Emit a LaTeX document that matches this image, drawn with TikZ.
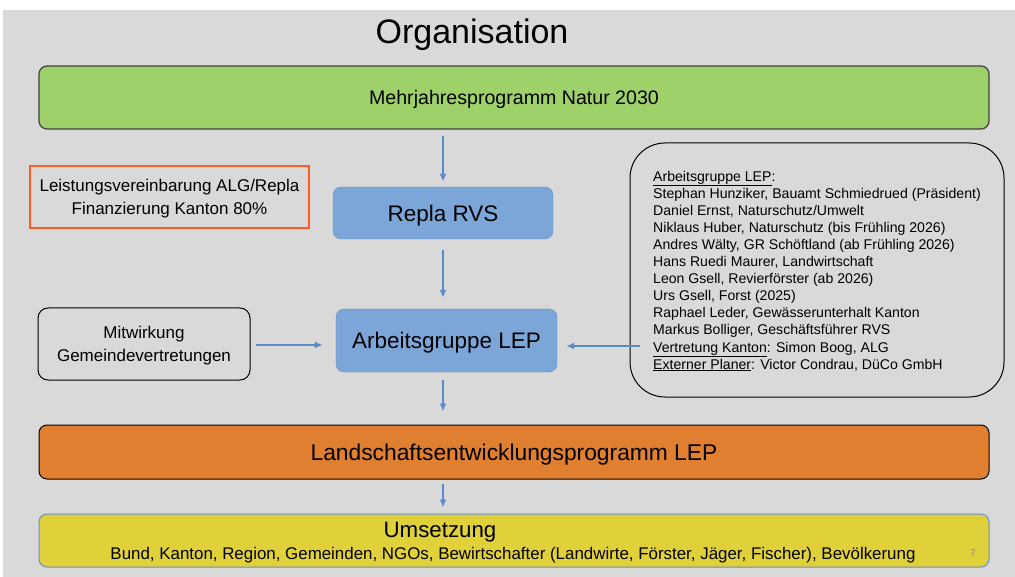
\documentclass[tikz,border=0pt]{standalone}
\usepackage{fontspec}
\setmainfont{Liberation Sans}
\usepackage{tikz}
\usetikzlibrary{arrows.meta,shapes}
\definecolor{slidegray}{HTML}{D9D9D9}
\definecolor{natgreen}{HTML}{9ED16A}
\definecolor{boxblue}{HTML}{7CA6D8}
\definecolor{boxblueline}{HTML}{6690C8}
\definecolor{arrowblue}{HTML}{5B8BC6}
\definecolor{redorange}{HTML}{FF5B23}
\definecolor{lepoorange}{HTML}{E07F2F}
\definecolor{umsyellow}{HTML}{E0D13A}
\tikzstyle{bar}=[rounded corners=8pt,minimum width=950pt,inner sep=0pt,text depth=0pt]
\tikzstyle{blue box}=[rectangle,rounded corners=8pt,fill=boxblue,draw=boxblueline,inner sep=0pt,text depth=0pt,font=\fontsize{22.5}{27}\selectfont]
\tikzstyle{side box}=[rectangle,align=center,inner sep=0pt,text depth=0pt,font=\fontsize{17}{22.5}\selectfont]
\tikzstyle{edge}=[draw,line width=2pt,arrowblue,-{Latex[length=8pt,width=7pt]}]

\begin{document}
\begin{tikzpicture}[x=1pt,y=-1pt]
        \useasboundingbox[fill=white] (0,0) rectangle (1015,577);
        \fill[slidegray] (3,10) rectangle (1015,577);
        \node[font=\fontsize{34}{40}\selectfont] (title) at (472,35) {Organisation};
        % bars across the slide
        \node[bar,fill=natgreen,draw=black!75,line width=1.2pt,minimum height=63pt,font=\fontsize{19.6}{24}\selectfont] (mjp) at (514,97.5) {Mehrjahresprogramm Natur 2030};
        \node[bar,fill=lepoorange,draw=black,line width=1pt,minimum height=54pt,font=\fontsize{22.8}{27}\selectfont] (lep) at (514,452) {Landschaftsentwicklungsprogramm LEP};
        \node[bar,fill=umsyellow,draw=boxblueline,line width=1pt,minimum height=53pt] (ums) at (514,540.5) {};
        \node[font=\fontsize{22.3}{26}\selectfont] (umstitle) at (440,532) {Umsetzung};
        \node[font=\fontsize{16.9}{20}\selectfont] (umstext) at (513,555) {Bund, Kanton, Region, Gemeinden, NGOs, Bewirtschafter (Landwirte, F\"orster, J\"ager, Fischer), Bev\"olkerung};
        \node[text=black!45,font=\fontsize{10}{12}\selectfont] (pagenr) at (973,553) {7};
        % middle column
        \node[blue box,minimum width=220pt,minimum height=52pt] (repla) at (443,213) {Repla RVS};
        \node[blue box,minimum width=221pt,minimum height=63pt] (agl) at (446.5,340.5) {Arbeitsgruppe LEP};
        % side boxes
        \node[side box,draw=redorange,line width=2.5pt,minimum width=279pt,minimum height=62pt] (lv) at (169.5,197) {Leistungsvereinbarung ALG/Repla\\Finanzierung Kanton 80\%};
        \node[side box,draw=black,line width=1pt,rounded corners=10pt,minimum width=212pt,minimum height=72pt] (mit) at (144,344) {Mitwirkung\\Gemeindevertretungen};
        \node[draw=black,line width=1pt,rounded corners=35pt,minimum width=374pt,minimum height=254pt,inner sep=0pt,text depth=0pt,align=left,font=\fontsize{14.1}{17.1}\selectfont] (members) at (817,270) {\underline{Arbeitsgruppe LEP}:\\
          Stephan Hunziker, Bauamt Schmiedrued (Pr\"asident)\\
          Daniel Ernst, Naturschutz/Umwelt\\
          Niklaus Huber, Naturschutz (bis Fr\"uhling 2026)\\
          Andres W\"alty, GR Sch\"oftland (ab Fr\"uhling 2026)\\
          Hans Ruedi Maurer, Landwirtschaft\\
          Leon Gsell, Revierf\"orster (ab 2026)\\
          Urs Gsell, Forst (2025)\\
          Raphael Leder, Gew\"asserunterhalt Kanton\\
          Markus Bolliger, Gesch\"aftsf\"uhrer RVS\\
          \underline{Vertretung Kanton}: Simon Boog, ALG\\
          \underline{Externer Planer}: Victor Condrau, D\"uCo GmbH};
        \coordinate (memin) at (640,346);
        % connectors
        \draw[edge,shorten <=6pt,shorten >=5pt] (mjp.south -| repla.south) to (repla.north);
        \draw[edge,shorten <=11pt,shorten >=11pt] (repla.south) to (agl.north -| repla.south);
        \draw[edge,shorten <=8pt,shorten >=13pt] (agl.south -| repla.south) to (lep.north -| repla.south);
        \draw[edge,shorten <=4pt,shorten >=6pt] (lep.south -| repla.south) to (ums.north -| repla.south);
        \draw[edge,shorten <=5pt,shorten >=13pt] (mit.east |- 0,345) to (agl.west |- 0,345);
        \draw[edge,shorten >=9pt] (memin) to (agl.east |- memin);
      \end{tikzpicture}
\end{document}
